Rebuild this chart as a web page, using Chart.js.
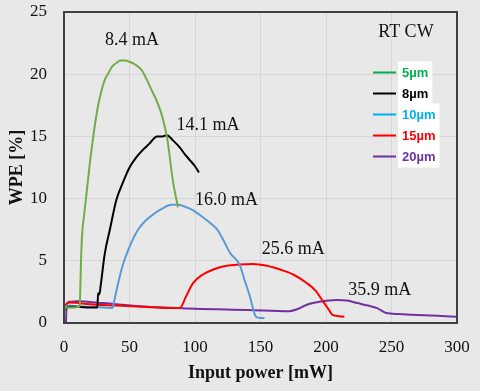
<!DOCTYPE html>
<html>
<head>
<meta charset="utf-8">
<script src="https://cdn.jsdelivr.net/npm/chart.js@4"></script>
<style>
  html, body { margin: 0; padding: 0; background: #e8e8e8; overflow: hidden; }
  #wrap { width: 480px; height: 391px; }
</style>
</head>
<body>
<div id="wrap"><canvas id="wpe-canvas" width="480" height="391"></canvas></div>
<script>
'use strict';

// values: input power [mW] vs WPE [%]
const names = ['5µm', '8µm', '10µm', '15µm', '20µm'];

const p5 = [0, 0.5, 1, 3, 8, 11.5, 12, 12.5, 13, 13.7, 15.5, 17.5, 18.3, 20, 22, 24, 25.9, 28, 31, 34, 36.6, 40, 43, 46.6, 50, 54, 59.5, 63, 67, 71, 75, 79, 83, 87];
const w5 = [0, 1.0, 1.2, 1.25, 1.25, 1.3, 1.4, 3.0, 5.0, 6.9, 8.8, 10.7, 11.5, 13.1, 14.7, 16.2, 17.4, 18.4, 19.5, 20.1, 20.6, 20.9, 21.1, 21.1, 21.0, 20.8, 20.3, 19.6, 18.7, 17.8, 16.6, 14.7, 11.5, 9.3];

const p8 = [0, 4, 10, 20, 25.5, 26, 27, 28, 31, 35, 40, 45, 50, 55, 60, 65, 71, 75, 78.6, 83, 88.5, 92, 96, 100, 103];
const w8 = [1.0, 1.3, 1.3, 1.25, 1.25, 2.4, 2.3, 3.0, 5.5, 7.5, 9.9, 11.3, 12.5, 13.3, 13.9, 14.4, 15.0, 15.0, 15.1, 14.7, 14.1, 13.6, 13.1, 12.6, 12.1];

const p10 = [0, 3, 10, 20, 30, 37, 38, 39, 42, 45, 48, 52, 56.5, 62, 69, 75, 82, 88, 91, 98, 106, 112, 117, 122, 127, 134, 138, 142, 145, 146.5, 150, 153];
const w10 = [1.2, 1.4, 1.35, 1.3, 1.25, 1.2, 1.6, 2.1, 3.5, 4.7, 5.6, 6.6, 7.5, 8.2, 8.8, 9.2, 9.5, 9.5, 9.4, 9.1, 8.5, 8.0, 7.5, 6.6, 5.6, 4.7, 3.4, 2.1, 0.9, 0.5, 0.4, 0.4];

const p15 = [0, 2, 5, 20, 40, 60, 80, 88.5, 93, 98.5, 106, 114, 124, 134, 144, 155, 165, 175, 185.5, 192, 198, 202, 205, 210, 214];
const w15 = [1.3, 1.55, 1.65, 1.5, 1.4, 1.3, 1.2, 1.2, 2.1, 3.2, 3.9, 4.3, 4.6, 4.7, 4.75, 4.6, 4.3, 3.9, 3.2, 2.6, 1.7, 1.1, 0.65, 0.55, 0.5];

const p20 = [1.5, 2, 4, 10, 30, 58, 100, 140, 172, 178, 185, 195, 208, 216, 224, 232, 239, 246, 255, 270, 285, 300];
const w20 = [0, 1.5, 1.7, 1.75, 1.6, 1.35, 1.15, 1.05, 0.95, 1.1, 1.45, 1.7, 1.85, 1.8, 1.6, 1.4, 1.2, 0.8, 0.72, 0.65, 0.58, 0.5];

const xTicks = [0, 50, 100, 150, 200, 250, 300];
const yTicks = [0, 5, 10, 15, 20, 25];

// current labels near each peak
const notes = ['8.4 mA', '14.1 mA', '16.0 mA', '25.6 mA', '35.9 mA', 'RT CW'];
const noteX = [52, 110, 124, 175, 241, 261];
const noteY = [22.75, 15.9, 9.9, 5.9, 2.65, 23.4];

const lineColors = ['#70ad47', '#000000', '#5b9bd5', '#ff0000', '#7030a0'];
const keyColors = ['#00b050', '#000000', '#00b0f0', '#ff0000', '#7030a0'];

function pairs(xs, ys) {
    let out = [];
    for (let i = 0; i < xs.length; i++)
        out.push({x: xs[i], y: ys[i]});
    return out;
}

const series = [[p5, w5], [p8, w8], [p10, w10], [p15, w15], [p20, w20]];

const serif = "'Liberation Serif', 'Times New Roman', serif";

// frame, text labels and the little legend on the right
const extras = {
    id: 'extras',
    beforeDraw(chart) {
        const c = chart.ctx;
        c.save();
        c.fillStyle = '#e8e8e8';
        c.fillRect(0, 0, chart.width, chart.height);
        c.restore();
    },
    afterDatasetsDraw(chart) {
        const c = chart.ctx, a = chart.chartArea;
        const sx = chart.scales.x, sy = chart.scales.y;
        c.save();
        c.strokeStyle = '#404040';
        c.lineWidth = 2;
        c.strokeRect(a.left, a.top, a.right - a.left, a.bottom - a.top);

        c.fillStyle = '#111';
        c.font = '18px ' + serif;
        c.textAlign = 'center';
        c.textBaseline = 'middle';
        for (let i = 0; i < notes.length; i++)
            c.fillText(notes[i], sx.getPixelForValue(noteX[i]), sy.getPixelForValue(noteY[i]));

        c.font = "bold 13px 'Liberation Sans', Arial, sans-serif";
        c.textAlign = 'left';
        let x0 = 373, y0 = 72.5, step = 21;
        for (let i = 0; i < names.length; i++) {
            let y = y0 + i * step;
            let tw = c.measureText(names[i]).width;
            c.fillStyle = '#ffffff';
            c.fillRect(x0 + 25, y - 11, tw + 8, 22);
        }
        for (let i = 0; i < names.length; i++) {
            let y = y0 + i * step;
            c.strokeStyle = keyColors[i];
            c.lineWidth = 2;
            c.beginPath();
            c.moveTo(x0, y);
            c.lineTo(x0 + 23, y);
            c.stroke();
            c.fillStyle = keyColors[i];
            c.fillText(names[i], x0 + 29, y + 1);
        }
        c.restore();
    }
};

new Chart(document.getElementById('wpe-canvas'), {
    type: 'line',
    data: {
        datasets: series.map((s, i) => ({
            label: names[i],
            data: pairs(s[0], s[1]),
            borderColor: lineColors[i],
            borderWidth: 2,
            pointRadius: 0,
            cubicInterpolationMode: 'monotone',
            fill: false
        }))
    },
    options: {
        responsive: false,
        animation: false,
        devicePixelRatio: 1,
        layout: { padding: { top: 12, right: 23, left: 0, bottom: 0 } },
        plugins: { legend: { display: false }, tooltip: { enabled: false } },
        scales: {
            x: {
                type: 'linear',
                min: 0, max: 300,
                afterBuildTicks: s => { s.ticks = xTicks.map(v => ({value: v})); },
                afterFit: s => { s.height = 68; s.paddingLeft = 0; s.paddingRight = 0; },
                grid: { color: '#d6d6d6', drawTicks: false },
                border: { display: false },
                ticks: { color: '#111', padding: 14, maxRotation: 0, font: { family: serif, size: 17 } },
                title: { display: true, text: 'Input power [mW]', color: '#111', padding: { top: 0, bottom: 7 },
                    font: { family: serif, size: 18, weight: 'bold' } }
            },
            y: {
                min: 0, max: 25,
                afterBuildTicks: s => { s.ticks = yTicks.map(v => ({value: v})); },
                afterFit: s => { s.width = 64; s.paddingTop = 0; s.paddingBottom = 0; },
                grid: { color: '#d6d6d6', drawTicks: false },
                border: { display: false },
                ticks: { color: '#111', padding: 17, font: { family: serif, size: 17 } },
                title: { display: true, text: 'WPE [%]', color: '#111', padding: { top: 7, bottom: 0 },
                    font: { family: serif, size: 18, weight: 'bold' } }
            }
        }
    },
    plugins: [extras]
});
</script>
</body>
</html>
